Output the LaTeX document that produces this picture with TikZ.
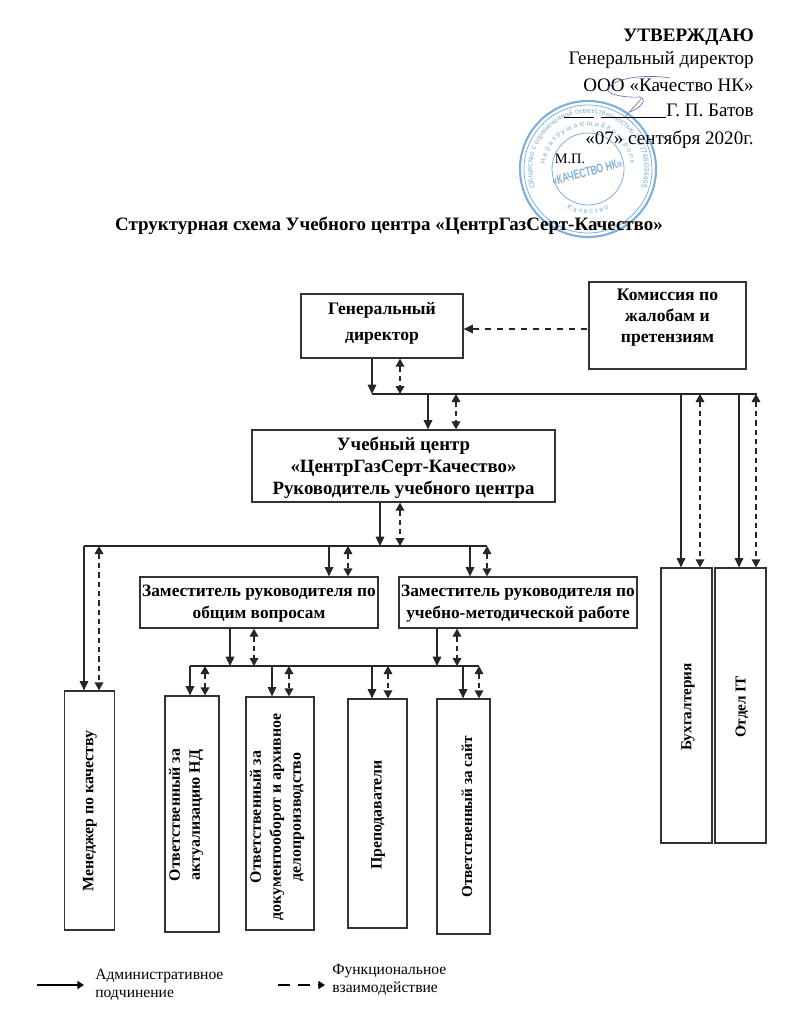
\documentclass[tikz,border=0pt]{standalone}
\usepackage{fontspec}
\setmainfont{Liberation Serif}
\newfontfamily\stampfont{Liberation Sans}
\usetikzlibrary{arrows.meta,decorations.text}
\definecolor{stampblue}{HTML}{7FAFDB}
\definecolor{inkblue}{HTML}{6E6EB4}
\tikzset{
  x=0.75pt,y=-0.75pt,
  box/.style={draw=black!80,line width=0.95pt,inner sep=0pt},
  btext/.style={align=center,inner sep=0pt},
  vtext/.style={rotate=90,align=center,inner sep=0pt,font=\bfseries\fontsize{11.9}{15}\selectfont},
  vsmall/.style={rotate=90,align=center,inner sep=0pt,font=\bfseries\fontsize{11.4}{15}\selectfont},
  adm/.style={draw=black!85,line width=0.95pt,-{Triangle[width=6.5pt,length=7pt]}},
  func/.style={draw=black!85,line width=0.95pt,dash pattern=on 4pt off 3pt,{Triangle[width=6.5pt,length=6pt]}-{Triangle[width=6.5pt,length=6pt]}},
  bus/.style={draw=black!85,line width=0.95pt},
  head/.style={font=\fontsize{14.3}{17}\selectfont,anchor=east,inner sep=0pt},
  legend/.style={font=\fontsize{11.7}{13.5}\selectfont,align=left,anchor=west,inner sep=0pt},
}
\begin{document}
\begin{tikzpicture}
\useasboundingbox (0,0) rectangle (790,1024);
% stamp
\begin{scope}[stampblue]
\coordinate (st) at (588,169);
\draw[line width=1.6pt] (st) circle[radius=68];
\draw[line width=0.6pt] (st) circle[radius=64];
\draw[line width=0.6pt] (st) circle[radius=36];
\path[decorate,decoration={text along path,text={|\stampfont\fontsize{5.6}{7}\selectfont\color{stampblue}|Общество с ограниченной ответственностью 1177746034465},text align=center}]
  (569,222) arc[start angle=110,end angle=430,radius=56];
\path[decorate,decoration={text along path,text={|\stampfont\fontsize{5.3}{7}\selectfont\color{stampblue}|Н е р а з р у ш а ю щ и й    К о н т р о л ь},text align=center}]
  (550,189) arc[start angle=152,end angle=388,radius=43];
\path[decorate,decoration={text along path,text={|\stampfont\fontsize{5.3}{7}\selectfont\color{stampblue}|К а ч е с т в о},text align=center}]
  (552,196) arc[start angle=143,end angle=37,radius=45];
\node[rotate=15,text=stampblue,font=\stampfont\bfseries\fontsize{9.5}{10}\selectfont,xscale=0.7] (sttext) at (587,172) {«КАЧЕСТВО НК»};
\end{scope}
% header
\node[head,font=\bfseries\fontsize{14.3}{17}\selectfont] (h1) at (754,37) {УТВЕРЖДАЮ};
\node[head] (h2) at (754,60) {Генеральный директор};
\node[head] (h3) at (754,85.5) {ООО «Качество НК»};
\node[head] (h4) at (754,111) {\rule[-0.5pt]{23pt}{0.5pt}\hspace{5pt}\rule[-0.5pt]{49pt}{0.5pt}Г. П. Батов};
\node[head] (h5) at (754,139.5) {«07» сентября 2020г.};
\node[font=\fontsize{10.8}{12}\selectfont,inner sep=0pt] (mp) at (570,159) {М.П.};
% signature
\draw[inkblue,line width=0.5pt] (670,78) .. controls (645,74) and (618,78) .. (610,86) .. controls (600,94) and (625,98) .. (640,97) .. controls (648,100) and (640,108) .. (630,112);
\draw[inkblue,line width=0.5pt] (641,99) -- (625,117);
% title
\node[font=\bfseries\fontsize{14.2}{17}\selectfont,inner sep=0pt] (title) at (389,225.5) {Структурная схема Учебного центра «ЦентрГазСерт-Качество»};
% boxes
\node[box,minimum width=121.5pt,minimum height=48pt] (gd) at (382,326) {};
\node[btext,font=\bfseries\fontsize{13.2}{19.5}\selectfont] (gdt) at (382,323.5) {Генеральный\\директор};
\node[box,minimum width=117.75pt,minimum height=65.25pt] (kom) at (667.5,325.5) {};
\node[btext,font=\bfseries\fontsize{13.2}{15.75}\selectfont] (komt) at (667.5,317.5) {Комиссия по\\жалобам и\\претензиям};
\node[box,minimum width=227.25pt,minimum height=54pt] (uc) at (403.5,466) {};
\node[btext,font=\bfseries\fontsize{14.1}{16.5}\selectfont] (uct) at (403.5,468) {Учебный центр\\«ЦентрГазСерт-Качество»\\Руководитель учебного центра};
\node[box,minimum width=178.5pt,minimum height=38.25pt] (z1) at (259,602.5) {};
\node[btext,font=\bfseries\fontsize{13}{16.5}\selectfont] (z1t) at (259,603.5) {Заместитель руководителя по\\общим вопросам};
\node[box,minimum width=178.5pt,minimum height=38.25pt] (z2) at (518,602.5) {};
\node[btext,font=\bfseries\fontsize{13}{16.5}\selectfont] (z2t) at (518,603.5) {Заместитель руководителя по\\учебно-методической работе};
\node[box,minimum width=38pt,minimum height=179.25pt] (mk) at (89.5,810.5) {};
\node[vtext] (mkt) at (90,811) {Менеджер по качеству};
\node[box,minimum width=40.5pt,minimum height=177pt] (nd) at (192,814) {};
\node[vtext] (ndt) at (186,815) {Ответственный за\\актуализацию НД};
\node[box,minimum width=51pt,minimum height=174.75pt] (doc) at (280,813.5) {};
\node[vtext] (doct) at (277,817) {Ответственный за\\документооборот и архивное\\делопроизводство};
\node[box,minimum width=44.25pt,minimum height=171.75pt] (pr) at (377.5,813.5) {};
\node[vtext] (prt) at (378,815) {Преподаватели};
\node[box,minimum width=39.75pt,minimum height=176.25pt] (st2) at (463.5,816.5) {};
\node[vsmall] (st2t) at (467,817) {Ответственный за сайт};
\node[box,minimum width=38.25pt,minimum height=206.25pt] (bh) at (686.5,705.5) {};
\node[vsmall] (bht) at (688,707) {Бухгалтерия};
\node[box,minimum width=38.25pt,minimum height=206.25pt] (it) at (740.5,705.5) {};
\node[vsmall] (itt) at (742,707) {Отдел IT};
% buses
\coordinate (b1l) at (372,394); \coordinate (b1r) at (757,394);
\coordinate (b2l) at (84,546);  \coordinate (b2r) at (487,546);
\coordinate (b3l) at (190,666); \coordinate (b3r) at (479,666);
\draw[bus] (b1l) -- (b1r);
\draw[bus] (b2l) -- (b2r);
\draw[bus] (b3l) -- (b3r);
% Director to bus 1
\coordinate (a) at (372,394); \draw[adm] (a |- gd.south) -- (a);
\coordinate (a) at (400,394); \draw[func] (a |- gd.south) -- (a);
\coordinate (a) at (500,329);
\draw[draw=black!85,line width=0.95pt,dash pattern=on 5pt off 4pt,{Triangle[width=6.5pt,length=7pt]}-] (gd.east |- a) -- (kom.west |- a);
% bus 1 to children
\coordinate (a) at (428,394); \draw[adm] (a) -- (a |- uc.north);
\coordinate (a) at (456,394); \draw[func] (a) -- (a |- uc.north);
\coordinate (a) at (681,394); \draw[adm] (a) -- (a |- bh.north);
\coordinate (a) at (700,394); \draw[func] (a) -- (a |- bh.north);
\coordinate (a) at (739,394); \draw[adm] (a) -- (a |- it.north);
\coordinate (a) at (756,394); \draw[func] (a) -- (a |- it.north);
% UC to bus 2
\coordinate (a) at (380,546); \draw[adm] (a |- uc.south) -- (a);
\coordinate (a) at (400,546); \draw[func] (a |- uc.south) -- (a);
% bus 2 to children
\coordinate (a) at (84,546);  \draw[adm] (a) -- (a |- mk.north);
\coordinate (a) at (99,546);  \draw[func] (a) -- (a |- mk.north);
\coordinate (a) at (329,546); \draw[adm] (a) -- (a |- z1.north);
\coordinate (a) at (348,546); \draw[func] (a) -- (a |- z1.north);
\coordinate (a) at (470,546); \draw[adm] (a) -- (a |- z2.north);
\coordinate (a) at (487,546); \draw[func] (a) -- (a |- z2.north);
% deputies to bus 3
\coordinate (a) at (230,666); \draw[adm] (a |- z1.south) -- (a);
\coordinate (a) at (254,666); \draw[func] (a |- z1.south) -- (a);
\coordinate (a) at (437,666); \draw[adm] (a |- z2.south) -- (a);
\coordinate (a) at (457,666); \draw[func] (a |- z2.south) -- (a);
% bus 3 to children
\coordinate (a) at (190,666); \draw[adm] (a) -- (a |- nd.north);
\coordinate (a) at (205,666); \draw[func] (a) -- (a |- nd.north);
\coordinate (a) at (272,666); \draw[adm] (a) -- (a |- doc.north);
\coordinate (a) at (289,666); \draw[func] (a) -- (a |- doc.north);
\coordinate (a) at (372,666); \draw[adm] (a) -- (a |- pr.north);
\coordinate (a) at (388,666); \draw[func] (a) -- (a |- pr.north);
\coordinate (a) at (463,666); \draw[adm] (a) -- (a |- st2.north);
\coordinate (a) at (479,666); \draw[func] (a) -- (a |- st2.north);
% legend
\coordinate (l1s) at (37,985); \coordinate (l1e) at (84,985);
\draw[line width=1.6pt,-{Triangle[width=6pt,length=5pt]}] (l1s) -- (l1e);
\node[legend] (l1) at (95,985) {Административное\\подчинение};
\coordinate (l2s) at (278,985); \coordinate (l2e) at (325,985);
\draw[line width=1.6pt,dash pattern=on 9pt off 6pt,-{Triangle[width=6pt,length=5pt]}] (l2s) -- (l2e);
\node[legend] (l2) at (332,980) {Функциональное\\взаимодействие};
\end{tikzpicture}
\end{document}
